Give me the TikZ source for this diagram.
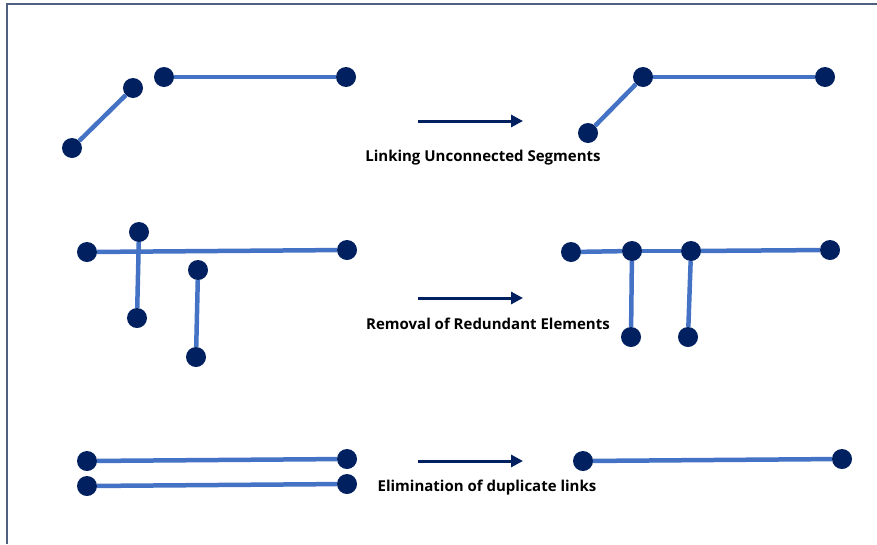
\documentclass[tikz,border=0pt]{standalone}
\usepackage{fontspec}
\setmainfont{Open Sans}
\usetikzlibrary{arrows.meta}
\definecolor{navy}{HTML}{002060}
\definecolor{segblue}{HTML}{4472C4}
\definecolor{framegray}{HTML}{4F5F7F}
\newcommand{\pnt}[2]{\node[pnt] (#1) at (#2) {}}
\newcommand{\seg}[2]{\draw[seg] (#1) -- (#2)}
\newcommand{\fleche}[2]{\coordinate (ar#1s) at (418,#2);
	\coordinate (ar#1e) at (523,#2);
	\draw[go] (ar#1s) -- (ar#1e)}

\begin{document}
\begin{tikzpicture}[x=1pt,y=-1pt,
	pnt/.style={circle,fill=navy,inner sep=0pt,minimum size=20pt},
	seg/.style={segblue,line width=4.5pt},
	go/.style={navy,line width=3pt,-{Triangle[length=12pt,width=12pt]}},
	lab/.style={font=\bfseries\fontsize{15}{17}\selectfont}]
\useasboundingbox (0,0) rectangle (877,544);
%Frame
	\draw[framegray,line width=1.5pt] (7,544) -- (7,4) -- (877,4);
%Linking unconnected segments
	\pnt{a1}{72,148};
	\pnt{a2}{133,88};
	\pnt{a3}{164,77};
	\pnt{a4}{346,77};
	\seg{a1}{a2};
	\seg{a3}{a4};
	\fleche{1}{121};
	\node[lab] (t1) at (483,158) {Linking Unconnected Segments};
	\pnt{b1}{588,133};
	\pnt{b2}{643,77};
	\pnt{b3}{825,77};
	\seg{b1}{b2};
	\seg{b2}{b3};
%Removal of redundant elements
	\pnt{c1}{87,252};
	\pnt{c2}{347,250};
	\pnt{c3}{139,232};
	\pnt{c4}{137,318};
	\pnt{c5}{198,270};
	\pnt{c6}{196,357};
	\seg{c1}{c2};
	\seg{c3}{c4};
	\seg{c5}{c6};
	\fleche{2}{298};
	\node[lab] (t2) at (488,324) {Removal of Redundant Elements};
	\pnt{d1}{571,252};
	\pnt{d2}{632,251};
	\pnt{d3}{691,251};
	\pnt{d4}{830,250};
	\pnt{d5}{631,337};
	\pnt{d6}{688,337};
	\seg{d1}{d2};
	\seg{d2}{d3};
	\seg{d3}{d4};
	\seg{d2}{d5};
	\seg{d3}{d6};
%Elimination of duplicate links
	\pnt{e1}{87,461};
	\pnt{e2}{347,459};
	\pnt{e3}{87,486};
	\pnt{e4}{347,484};
	\seg{e1}{e2};
	\seg{e3}{e4};
	\fleche{3}{461};
	\node[lab] (t3) at (487,488) {Elimination of duplicate links};
	\pnt{f1}{583,461};
	\pnt{f2}{842,459};
	\seg{f1}{f2};
\end{tikzpicture}
\end{document}
